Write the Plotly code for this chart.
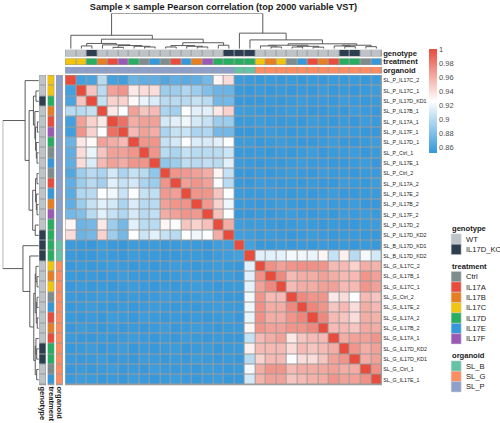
import plotly.graph_objects as go
import numpy as np

W, H = 500, 423

samples = [
    "SL_P_IL17C_2", "SL_P_IL17C_1", "SL_P_IL17D_KD1", "SL_P_IL17B_1", "SL_P_IL17A_1",
    "SL_P_IL17F_1", "SL_P_IL17D_1", "SL_P_Ctrl_1", "SL_P_IL17E_1", "SL_P_Ctrl_2",
    "SL_P_IL17A_2", "SL_P_IL17E_2", "SL_P_IL17B_2", "SL_P_IL17F_2", "SL_P_IL17D_2",
    "SL_P_IL17D_KD2", "SL_B_IL17D_KD1", "SL_B_IL17D_KD2", "SL_G_IL17C_2", "SL_G_IL17B_1",
    "SL_G_IL17C_1", "SL_G_Ctrl_2", "SL_G_IL17E_2", "SL_G_IL17A_2", "SL_G_IL17B_2",
    "SL_G_IL17A_1", "SL_G_IL17D_KD2", "SL_G_IL17D_KD1", "SL_G_Ctrl_1", "SL_G_IL17E_1",
]
genotype = ["WT", "WT", "IL17D_KO", "WT", "WT", "WT", "WT", "WT", "WT", "WT",
            "WT", "WT", "WT", "WT", "WT", "IL17D_KO", "IL17D_KO", "IL17D_KO", "WT", "WT",
            "WT", "WT", "WT", "WT", "WT", "WT", "IL17D_KO", "IL17D_KO", "WT", "WT"]
treatment = ["IL17C", "IL17C", "IL17D", "IL17B", "IL17A", "IL17F", "IL17D", "Ctrl", "IL17E", "Ctrl",
             "IL17A", "IL17E", "IL17B", "IL17F", "IL17D", "IL17D", "IL17D", "IL17D", "IL17C", "IL17B",
             "IL17C", "Ctrl", "IL17E", "IL17A", "IL17B", "IL17A", "IL17D", "IL17D", "Ctrl", "IL17E"]
organoid = ["SL_P"] * 16 + ["SL_B"] * 2 + ["SL_G"] * 12

genotype_levels = ["WT", "IL17D_KO"]
genotype_colors = ["#BDC3C7", "#2C3E50"]
treatment_levels = ["Ctrl", "IL17A", "IL17B", "IL17C", "IL17D", "IL17E", "IL17F"]
treatment_colors = ["#7F8C8D", "#E74C3C", "#E67E22", "#F1C40F", "#27AE60", "#3498DB", "#9B59B6"]
organoid_levels = ["SL_B", "SL_G", "SL_P"]
organoid_colors = ["#66C2A5", "#FC8D62", "#8DA0CB"]

# lower triangle of the Pearson correlation matrix (row i holds columns 0..i)
corr_lower = [
    [1.000],
    [0.858, 1.000],
    [0.860, 0.950, 1.000],
    [0.900, 0.900, 0.905, 1.000],
    [0.858, 0.965, 0.945, 0.935, 1.000],
    [0.857, 0.970, 0.945, 0.925, 0.985, 1.000],
    [0.872, 0.935, 0.928, 0.965, 0.960, 0.955, 1.000],
    [0.868, 0.940, 0.918, 0.950, 0.965, 0.965, 0.970, 1.000],
    [0.868, 0.940, 0.912, 0.955, 0.965, 0.960, 0.970, 0.970, 1.000],
    [0.863, 0.890, 0.900, 0.895, 0.910, 0.895, 0.905, 0.900, 0.885, 1.000],
    [0.868, 0.890, 0.900, 0.892, 0.915, 0.905, 0.910, 0.895, 0.890, 0.970, 1.000],
    [0.866, 0.897, 0.900, 0.925, 0.921, 0.906, 0.925, 0.905, 0.902, 0.968, 0.966, 1.000],
    [0.868, 0.890, 0.905, 0.915, 0.910, 0.895, 0.913, 0.900, 0.900, 0.965, 0.970, 0.970, 1.000],
    [0.875, 0.880, 0.900, 0.915, 0.905, 0.897, 0.911, 0.900, 0.903, 0.960, 0.965, 0.970, 0.968, 1.000],
    [0.930, 0.872, 0.875, 0.935, 0.890, 0.875, 0.915, 0.901, 0.900, 0.930, 0.924, 0.950, 0.945, 0.952, 1.000],
    [0.940, 0.872, 0.875, 0.945, 0.890, 0.875, 0.925, 0.907, 0.915, 0.905, 0.900, 0.925, 0.920, 0.925, 0.960, 1.000],
    [0.855, 0.854, 0.853, 0.856, 0.854, 0.853, 0.855, 0.854, 0.855, 0.853, 0.854, 0.855, 0.854, 0.853, 0.856, 0.857, 1.000],
    [0.854, 0.853, 0.853, 0.855, 0.854, 0.853, 0.855, 0.854, 0.854, 0.853, 0.853, 0.854, 0.854, 0.853, 0.855, 0.856, 0.858, 1.000],
    [0.853, 0.854, 0.853, 0.854, 0.855, 0.854, 0.853, 0.854, 0.853, 0.854, 0.855, 0.854, 0.853, 0.854, 0.855, 0.854, 0.853, 0.915, 1.000],
    [0.854, 0.853, 0.854, 0.853, 0.854, 0.855, 0.854, 0.853, 0.854, 0.853, 0.854, 0.855, 0.854, 0.853, 0.854, 0.855, 0.853, 0.915, 0.972, 1.000],
    [0.853, 0.854, 0.853, 0.854, 0.853, 0.854, 0.855, 0.854, 0.853, 0.854, 0.853, 0.854, 0.855, 0.854, 0.853, 0.854, 0.854, 0.917, 0.965, 0.975, 1.000],
    [0.854, 0.853, 0.854, 0.855, 0.854, 0.853, 0.854, 0.853, 0.854, 0.855, 0.854, 0.853, 0.854, 0.855, 0.854, 0.853, 0.853, 0.922, 0.970, 0.955, 0.955, 1.000],
    [0.853, 0.854, 0.855, 0.854, 0.853, 0.854, 0.853, 0.854, 0.855, 0.854, 0.853, 0.854, 0.853, 0.854, 0.855, 0.854, 0.854, 0.920, 0.972, 0.960, 0.960, 0.975, 1.000],
    [0.854, 0.853, 0.854, 0.853, 0.855, 0.854, 0.853, 0.855, 0.854, 0.853, 0.854, 0.853, 0.854, 0.853, 0.854, 0.855, 0.853, 0.918, 0.972, 0.960, 0.960, 0.970, 0.976, 1.000],
    [0.853, 0.855, 0.854, 0.853, 0.854, 0.853, 0.854, 0.853, 0.854, 0.855, 0.853, 0.854, 0.855, 0.854, 0.853, 0.854, 0.854, 0.930, 0.970, 0.965, 0.965, 0.970, 0.970, 0.975, 1.000],
    [0.854, 0.853, 0.853, 0.854, 0.853, 0.854, 0.855, 0.854, 0.853, 0.854, 0.853, 0.855, 0.854, 0.853, 0.854, 0.853, 0.853, 0.905, 0.955, 0.960, 0.965, 0.935, 0.950, 0.955, 0.955, 1.000],
    [0.853, 0.854, 0.855, 0.853, 0.854, 0.855, 0.853, 0.854, 0.853, 0.854, 0.855, 0.853, 0.854, 0.855, 0.853, 0.854, 0.854, 0.932, 0.955, 0.955, 0.955, 0.940, 0.955, 0.950, 0.955, 0.960, 1.000],
    [0.854, 0.853, 0.854, 0.855, 0.853, 0.854, 0.853, 0.855, 0.854, 0.853, 0.854, 0.853, 0.855, 0.854, 0.853, 0.854, 0.853, 0.900, 0.945, 0.955, 0.955, 0.925, 0.940, 0.940, 0.950, 0.965, 0.970, 1.000],
    [0.853, 0.854, 0.853, 0.854, 0.855, 0.853, 0.854, 0.853, 0.855, 0.854, 0.853, 0.854, 0.853, 0.855, 0.854, 0.853, 0.854, 0.922, 0.960, 0.970, 0.970, 0.955, 0.960, 0.960, 0.962, 0.965, 0.960, 0.960, 1.000],
    [0.854, 0.855, 0.854, 0.853, 0.854, 0.853, 0.855, 0.854, 0.853, 0.854, 0.855, 0.854, 0.853, 0.854, 0.855, 0.853, 0.853, 0.910, 0.958, 0.965, 0.965, 0.950, 0.955, 0.958, 0.960, 0.970, 0.965, 0.965, 0.972, 1.000],
]

# hierarchical clustering merges (left node, right node, height); nodes >= 30 are earlier merges
tree_merges = [
    (4, 5, 0.04), (7, 8, 0.05), (6, 31, 0.07), (30, 32, 0.09), (3, 33, 0.11),
    (1, 2, 0.08), (35, 34, 0.15), (9, 10, 0.05), (12, 13, 0.05), (11, 38, 0.07),
    (37, 39, 0.09), (14, 15, 0.10), (40, 41, 0.17), (36, 42, 0.27), (0, 43, 0.38),
    (19, 20, 0.05), (18, 45, 0.08), (21, 22, 0.05), (23, 24, 0.045), (47, 48, 0.07),
    (46, 49, 0.10), (26, 27, 0.06), (25, 51, 0.08), (28, 29, 0.06), (52, 53, 0.10),
    (50, 54, 0.14), (17, 55, 0.25), (16, 56, 0.44), (44, 57, 1.00),
]

cbar_ticks = [0.86, 0.88, 0.90, 0.92, 0.94, 0.96, 0.98, 1.00]
cbar_labels = ["0.86", "0.88", "0.9", "0.92", "0.94", "0.96", "0.98", "1"]
zmin, zmax = 0.852, 1.0

n = len(samples)
corr = np.zeros((n, n))
for i, row in enumerate(corr_lower):
    for j, v in enumerate(row):
        corr[i, j] = v
        corr[j, i] = v

FONT = "Liberation Sans, Arial, sans-serif"
GRID = "#9C9C9C"


def fx(p):
    return p / W


def fy(p):
    return 1 - p / H


# pixel layout
HM_X = (64.3, 382.7)
HM_Y = (74.3, 386.3)
TOP_TRACKS = [(48.8, 56.0), (57.4, 64.6), (66.0, 73.2)]
LEFT_TRACKS = [(38.2, 45.4), (46.6, 53.8), (55.0, 62.2)]
COL_DEND_Y = (12.3, 48.0)
ROW_DEND_X = (1.7, 38.0)

fig = go.Figure()
layout = dict(
    width=W, height=H, margin=dict(l=0, r=0, t=0, b=0),
    paper_bgcolor="white", plot_bgcolor="white", showlegend=False,
    font=dict(family=FONT, color="#1a1a1a"),
)
shapes = []
annotations = []

idx = list(range(n))
rng_lo, rng_hi = -0.5, n - 0.5

# main heatmap
fig.add_trace(go.Heatmap(
    z=corr, x=idx, y=idx, xaxis="x", yaxis="y", zmin=zmin, zmax=zmax,
    colorscale=[[0, "#3498DB"], [0.5, "#FFFFFF"], [1, "#E74C3C"]],
    xgap=1, ygap=1, hoverinfo="skip",
    colorbar=dict(
        x=fx(429.5), xanchor="left", y=fy(48.3), yanchor="top",
        lenmode="pixels", len=103.5, thickness=7.5, outlinewidth=0,
        tickmode="array", tickvals=cbar_ticks, ticktext=cbar_labels,
        ticks="", tickfont=dict(size=7.5, color="#4D4D4D", family=FONT), ypad=0, xpad=0,
    ),
))
layout["xaxis"] = dict(domain=[fx(HM_X[0]), fx(HM_X[1])], range=[rng_lo - 0.05, rng_hi + 0.05],
                       visible=False, anchor="y", fixedrange=True)
layout["yaxis"] = dict(domain=[fy(HM_Y[1]), fy(HM_Y[0])], range=[rng_hi + 0.05, rng_lo - 0.05],
                       anchor="x", side="right", tickmode="array", tickvals=idx, ticktext=samples,
                       ticks="", showline=False, showgrid=False, zeroline=False,
                       tickfont=dict(size=5.3, color="#1a1a1a", family=FONT), fixedrange=True)
shapes.append(dict(type="rect", xref="x", yref="y", x0=rng_lo - 0.05, x1=rng_hi + 0.05,
                   y0=rng_lo - 0.05, y1=rng_hi + 0.05, fillcolor=GRID, line=dict(width=0), layer="below"))


def discrete_scale(colors):
    k = len(colors)
    cs = []
    for i, c in enumerate(colors):
        cs.append([i / k, c])
        cs.append([(i + 1) / k, c])
    return cs


tracks = [
    ("genotype", genotype, genotype_levels, genotype_colors),
    ("treatment", treatment, treatment_levels, treatment_colors),
    ("organoid", organoid, organoid_levels, organoid_colors),
]

ax = 2
for t, (name, vals, levels, colors) in enumerate(tracks):
    codes = [levels.index(v) for v in vals]
    cs = discrete_scale(colors)
    k = len(levels)
    # top track
    xa, ya = f"x{ax}", f"y{ax}"
    fig.add_trace(go.Heatmap(z=[codes], x=idx, y=[0], xaxis=xa, yaxis=ya, zmin=-0.5, zmax=k - 0.5,
                             colorscale=cs, showscale=False, xgap=1, ygap=0, hoverinfo="skip"))
    y0, y1 = TOP_TRACKS[t]
    layout[f"xaxis{ax}"] = dict(domain=[fx(HM_X[0]), fx(HM_X[1])], range=[rng_lo - 0.05, rng_hi + 0.05],
                                visible=False, anchor=ya, fixedrange=True)
    layout[f"yaxis{ax}"] = dict(domain=[fy(y1), fy(y0)], range=[-0.56, 0.56], anchor=xa, side="right",
                                tickmode="array", tickvals=[0], ticktext=[f"<b>{name}</b>"], ticks="",
                                showgrid=False, zeroline=False, showline=False,
                                tickfont=dict(size=7.6, color="#1a1a1a", family=FONT), fixedrange=True)
    shapes.append(dict(type="rect", xref=xa, yref=ya, x0=rng_lo - 0.05, x1=rng_hi + 0.05, y0=-0.56, y1=0.56,
                       fillcolor=GRID, line=dict(width=0), layer="below"))
    ax += 1
    # left track
    xa, ya = f"x{ax}", f"y{ax}"
    fig.add_trace(go.Heatmap(z=[[c] for c in codes], x=[0], y=idx, xaxis=xa, yaxis=ya, zmin=-0.5,
                             zmax=k - 0.5, colorscale=cs, showscale=False, xgap=0, ygap=1, hoverinfo="skip"))
    x0, x1 = LEFT_TRACKS[t]
    layout[f"xaxis{ax}"] = dict(domain=[fx(x0), fx(x1)], range=[-0.56, 0.56], anchor=ya, side="bottom",
                                tickmode="array", tickvals=[0], ticktext=[f"<b>{name}</b>"], ticks="",
                                tickangle=90, showgrid=False, zeroline=False, showline=False,
                                tickfont=dict(size=7.6, color="#1a1a1a", family=FONT), fixedrange=True)
    layout[f"yaxis{ax}"] = dict(domain=[fy(HM_Y[1]), fy(HM_Y[0])], range=[rng_hi + 0.05, rng_lo - 0.05],
                                visible=False, anchor=xa, fixedrange=True)
    shapes.append(dict(type="rect", xref=xa, yref=ya, x0=-0.56, x1=0.56, y0=rng_lo - 0.05, y1=rng_hi + 0.05,
                       fillcolor=GRID, line=dict(width=0), layer="below"))
    ax += 1


# dendrograms
def dendro_paths(merges, nleaf):
    pos = {i: float(i) for i in range(nleaf)}
    hgt = {i: 0.0 for i in range(nleaf)}
    p, h = [], []
    for k, (a, b, ht) in enumerate(merges):
        node = nleaf + k
        p += [pos[a], pos[a], pos[b], pos[b], None]
        h += [hgt[a], ht, ht, hgt[b], None]
        pos[node] = (pos[a] + pos[b]) / 2
        hgt[node] = ht
    return p, h


dp, dh = dendro_paths(tree_merges, n)
hmax = max(m[2] for m in tree_merges)
DCOL = "#4A4A4A"

xa, ya = f"x{ax}", f"y{ax}"
fig.add_trace(go.Scatter(x=dp, y=dh, xaxis=xa, yaxis=ya, mode="lines",
                         line=dict(color=DCOL, width=0.9), hoverinfo="skip"))
layout[f"xaxis{ax}"] = dict(domain=[fx(HM_X[0]), fx(HM_X[1])], range=[rng_lo - 0.05, rng_hi + 0.05],
                            visible=False, anchor=ya, fixedrange=True)
layout[f"yaxis{ax}"] = dict(domain=[fy(COL_DEND_Y[1]), fy(COL_DEND_Y[0])], range=[0, hmax],
                            visible=False, anchor=xa, fixedrange=True)
ax += 1
xa, ya = f"x{ax}", f"y{ax}"
fig.add_trace(go.Scatter(x=dh, y=dp, xaxis=xa, yaxis=ya, mode="lines",
                         line=dict(color=DCOL, width=0.9), hoverinfo="skip"))
layout[f"xaxis{ax}"] = dict(domain=[fx(ROW_DEND_X[0]), fx(ROW_DEND_X[1])], range=[hmax, 0],
                            visible=False, anchor=ya, fixedrange=True)
layout[f"yaxis{ax}"] = dict(domain=[fy(HM_Y[1]), fy(HM_Y[0])], range=[rng_hi + 0.05, rng_lo - 0.05],
                            visible=False, anchor=xa, fixedrange=True)

# annotation legends
LEG_X = 452.0
BOX_W, BOX_H = 10.0, 10.4
y = 229.0
for name, vals, levels, colors in tracks:
    annotations.append(dict(xref="paper", yref="paper", x=fx(LEG_X - 1), y=fy(y), xanchor="left",
                            yanchor="middle", text=f"<b>{name}</b>", showarrow=False,
                            font=dict(size=7.6, color="#1a1a1a", family=FONT)))
    top = y + 5.0
    for lv, col in zip(levels, colors):
        shapes.append(dict(type="rect", xref="paper", yref="paper", x0=fx(LEG_X), x1=fx(LEG_X + BOX_W),
                           y0=fy(top + BOX_H), y1=fy(top), fillcolor=col, line=dict(color="#D0D0D0", width=0.5)))
        annotations.append(dict(xref="paper", yref="paper", x=fx(LEG_X + BOX_W + 2.5), y=fy(top + BOX_H / 2),
                                xanchor="left", yanchor="middle", text=lv, showarrow=False,
                                font=dict(size=7.6, color="#1a1a1a", family=FONT)))
        top += BOX_H
    y = top + 12.0

layout["title"] = dict(text="<b>Sample × sample Pearson correlation (top 2000 variable VST)</b>",
                       x=fx(223.5), xanchor="center", y=fy(6.5), yanchor="middle",
                       font=dict(size=9.2, color="#1a1a1a", family=FONT))
layout["shapes"] = shapes
layout["annotations"] = annotations
fig.update_layout(**layout)
fig.write_html("out.html")
